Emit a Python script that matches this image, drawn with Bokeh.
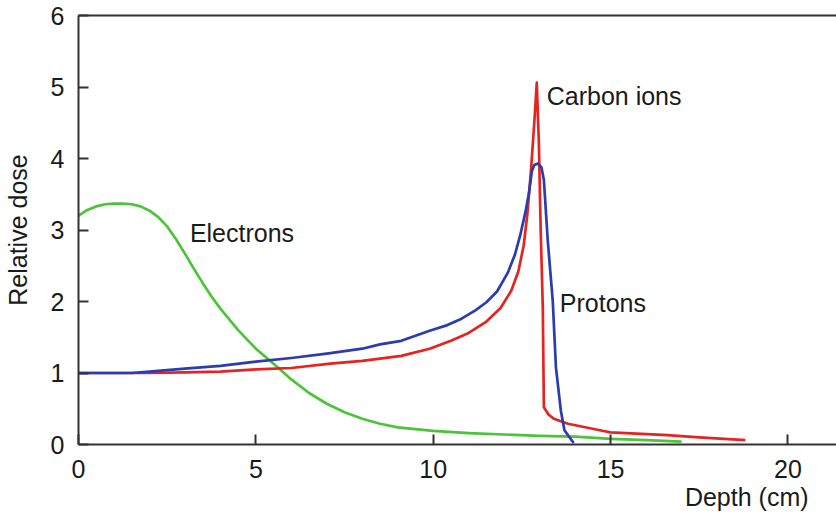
from bokeh.plotting import figure
from bokeh.models import Range1d, LinearAxis, FixedTicker, Label
from bokeh.embed import file_html
from bokeh.resources import INLINE

# Electrons
e_x = [0, 0.25, 0.5, 0.75, 1.0, 1.25, 1.5, 1.75, 2.0, 2.25, 2.5, 2.75, 3.0, 3.25, 3.5, 3.75, 4.0, 4.5,
       5.0, 5.5, 6.0, 6.5, 7.0, 7.5, 8.0, 8.5, 9.0, 10, 11, 12, 13, 14, 15, 16, 17]
e_y = [3.20, 3.28, 3.33, 3.36, 3.37, 3.37, 3.36, 3.33, 3.27, 3.18, 3.05, 2.87, 2.67, 2.46, 2.26, 2.07, 1.90, 1.60,
       1.34, 1.13, 0.91, 0.72, 0.57, 0.45, 0.36, 0.29, 0.24, 0.19, 0.16, 0.14, 0.12, 0.11, 0.08, 0.06, 0.04]

# Protons
p_x = [0, 1.0, 1.5, 2.0, 3.0, 4.0, 5.0, 6.0, 7.0, 8.0, 8.5, 9.1, 9.9, 10.4, 10.8, 11.2, 11.5, 11.8, 12.1,
       12.3, 12.45, 12.6, 12.7, 12.78, 12.85, 12.95, 13.05, 13.12, 13.23, 13.37, 13.46, 13.6, 13.7, 13.96]
p_y = [1.0, 1.0, 1.0, 1.02, 1.06, 1.10, 1.16, 1.21, 1.27, 1.34, 1.40, 1.45, 1.59, 1.67, 1.76, 1.88, 1.99, 2.14, 2.40,
       2.65, 2.92, 3.25, 3.52, 3.82, 3.91, 3.93, 3.88, 3.70, 2.85, 2.01, 1.08, 0.47, 0.20, 0.02]

# Carbon ions
c_x = [0, 2.0, 3.0, 4.0, 5.0, 6.0, 7.1, 8.0, 8.5, 9.1, 9.9, 10.5, 11.0, 11.5, 11.9, 12.2,
       12.4, 12.55, 12.65, 12.75, 12.85, 12.92, 12.98, 13.03, 13.09, 13.12, 13.25, 13.4, 13.8, 14.7,
       15.0, 16.6, 17.5, 18.8]
c_y = [1.0, 1.0, 1.01, 1.02, 1.05, 1.07, 1.13, 1.17, 1.20, 1.24, 1.34, 1.45, 1.56, 1.72, 1.91, 2.15,
       2.42, 2.78, 3.20, 3.79, 4.50, 5.06, 4.20, 3.00, 1.92, 0.52, 0.42, 0.36, 0.29, 0.20,
       0.17, 0.13, 0.10, 0.06]

x_ticks = [0, 5, 10, 15, 20]
y_ticks = [0, 1, 2, 3, 4, 5, 6]

FONT = "Liberation Sans"
FS = "25px"
TXT = "#1a1a1a"
AX = "#333333"

p = figure(width=836, height=518, output_backend="svg", toolbar_location=None,
           x_range=Range1d(0, 21.37), y_range=Range1d(0, 6),
           min_border_left=76, min_border_right=0, min_border_top=15, min_border_bottom=74)
p.grid.visible = False
p.outline_line_color = None
p.background_fill_color = "white"
p.border_fill_color = "white"

for ax, ticks in ((p.xaxis[0], x_ticks), (p.yaxis[0], y_ticks)):
    ax.ticker = FixedTicker(ticks=ticks)
    ax.major_tick_in = 10
    ax.major_tick_out = 0
    ax.minor_tick_line_color = None
    ax.axis_line_color = AX
    ax.axis_line_width = 2
    ax.major_tick_line_color = AX
    ax.major_tick_line_width = 2
    ax.major_label_text_font = FONT
    ax.major_label_text_font_size = FS
    ax.major_label_text_color = TXT

p.xaxis[0].major_label_standoff = 15
p.yaxis[0].major_label_standoff = 14
p.yaxis[0].axis_label = "Relative dose"
p.yaxis[0].axis_label_text_font = FONT
p.yaxis[0].axis_label_text_font_size = FS
p.yaxis[0].axis_label_text_font_style = "normal"
p.yaxis[0].axis_label_text_color = TXT
p.yaxis[0].axis_label_standoff = 16

top = LinearAxis(ticker=FixedTicker(ticks=[]), major_tick_in=0, major_tick_out=0,
                 minor_tick_line_color=None, major_label_text_font_size="0px",
                 major_label_standoff=0, axis_line_color=AX, axis_line_width=2)
p.add_layout(top, "above")

# second bottom axis carrying the right-aligned x title
p.extra_x_ranges = {"px": Range1d(0, 760)}
xtitle = LinearAxis(x_range_name="px", ticker=FixedTicker(ticks=[670]),
                    major_label_overrides={670: "Depth (cm)"},
                    major_tick_in=0, major_tick_out=0, minor_tick_line_color=None,
                    axis_line_color=None, major_label_standoff=2,
                    major_label_text_font=FONT, major_label_text_font_size=FS,
                    major_label_text_color=TXT)
p.add_layout(xtitle, "below")

p.line(e_x, e_y, line_color="#4cc33b", line_width=2.7, line_join="round")
p.line(c_x, c_y, line_color="#e52421", line_width=2.7, line_join="round")
p.line(p_x, p_y, line_color="#2b3cae", line_width=2.7, line_join="round")

def lab(x, y, t):
    p.add_layout(Label(x=x, y=y, text=t, text_font=FONT, text_font_size=FS,
                       text_color=TXT, text_align="left", text_baseline="middle"))

lab(3.14, 2.96, "Electrons")
lab(13.2, 4.88, "Carbon ions")
lab(13.57, 1.98, "Protons")

open("out.html", "w").write(file_html(p, INLINE))
